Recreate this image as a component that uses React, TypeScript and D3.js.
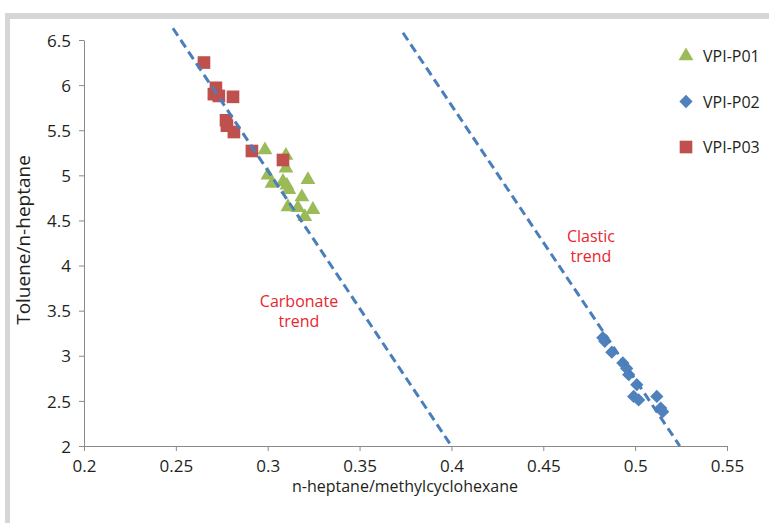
import React, { useEffect, useRef } from 'react'
import * as d3 from 'd3'

// VPI-P01 (green triangles)
const p01X = [0.2985, 0.3099, 0.3099, 0.3001, 0.3023, 0.3083, 0.3104, 0.3115, 0.3219, 0.3186, 0.311, 0.3164, 0.3246, 0.3202]
const p01Y = [5.28, 5.22, 5.08, 5.0, 4.91, 4.93, 4.89, 4.84, 4.95, 4.76, 4.65, 4.64, 4.62, 4.54]
// VPI-P02 (blue diamonds)
const p02X = [0.4824, 0.4835, 0.4873, 0.4933, 0.4954, 0.4965, 0.5009, 0.4992, 0.5019, 0.5118, 0.5139, 0.515]
const p02Y = [3.2, 3.16, 3.04, 2.92, 2.86, 2.79, 2.68, 2.55, 2.51, 2.55, 2.42, 2.38]
// VPI-P03 (red squares)
const p03X = [0.2653, 0.2718, 0.2707, 0.2734, 0.2811, 0.2773, 0.2778, 0.2816, 0.2914, 0.3083]
const p03Y = [6.25, 5.97, 5.9, 5.88, 5.87, 5.61, 5.55, 5.48, 5.27, 5.17]

const carbonateX = [0.2484, 0.4]
const carbonateY = [6.63, 2.0]
const clasticX = [0.3736, 0.5243]
const clasticY = [6.58, 2.0]

const xTicks = [0.2, 0.25, 0.3, 0.35, 0.4, 0.45, 0.5, 0.55]
const yTicks = [2, 2.5, 3, 3.5, 4, 4.5, 5, 5.5, 6, 6.5]
const seriesNames = ['VPI-P01', 'VPI-P02', 'VPI-P03']

const W = 769, H = 523
const FONT = '"Open Sans", sans-serif'

export default function App() {
  const ref = useRef<SVGSVGElement>(null)

  useEffect(() => {
    const svg = d3.select(ref.current)
    svg.selectAll('*').remove()

    const x = d3.scaleLinear().domain([0.2, 0.55]).range([84, 727])
    const y = d3.scaleLinear().domain([2, 6.5]).range([446, 40])

    // frame
    svg.append('rect').attr('x', 5).attr('y', 13).attr('width', W).attr('height', 6).attr('fill', '#d5d7d7')
    svg.append('rect').attr('x', 5).attr('y', 13).attr('width', 5).attr('height', H).attr('fill', '#d5d7d7')

    // axes
    const xAxis = svg.append('g').attr('transform', 'translate(0,446)')
      .call(d3.axisBottom(x).tickValues(xTicks).tickSize(5).tickSizeOuter(0).tickFormat(d => String(d)))
    const yAxis = svg.append('g').attr('transform', 'translate(84,0)')
      .call(d3.axisLeft(y).tickValues(yTicks).tickSize(5).tickSizeOuter(0).tickFormat(d => String(d)))
    ;[xAxis, yAxis].forEach(a => {
      a.attr('font-size', 17).attr('font-family', FONT)
      a.select('.domain').attr('stroke', '#8a8a8a')
      a.selectAll('.tick line').attr('stroke', '#8a8a8a')
      a.selectAll('.tick text').attr('fill', '#231f20')
    })
    xAxis.selectAll('.tick text').attr('y', 26).attr('dy', null)
    yAxis.selectAll('.tick text').attr('x', -13).attr('dy', '0.36em')

    // titles
    svg.append('text').attr('x', 405).attr('y', 492).attr('text-anchor', 'middle')
      .attr('font-size', 16).attr('font-family', FONT).attr('fill', '#231f20')
      .text('n-heptane/methylcyclohexane')
    svg.append('text').attr('transform', 'translate(30,240) rotate(-90)').attr('text-anchor', 'middle')
      .attr('font-size', 19).attr('font-family', FONT).attr('fill', '#231f20')
      .text('Toluene/n-heptane')

    // markers
    const sym = (t: d3.SymbolType, s: number) => d3.symbol().type(t).size(s)()
    const tri = sym(d3.symbolTriangle, 95)
    const dia = sym(d3.symbolSquare, 88)
    const sq = sym(d3.symbolSquare, 160)

    svg.append('g').selectAll('path').data(p01X).enter().append('path')
      .attr('d', tri).attr('fill', '#9bbb59')
      .attr('transform', (d, i) => `translate(${x(d)},${y(p01Y[i])})`)
    svg.append('g').selectAll('path').data(p02X).enter().append('path')
      .attr('d', dia).attr('fill', '#4f81bd')
      .attr('transform', (d, i) => `translate(${x(d)},${y(p02Y[i])}) rotate(45)`)
    svg.append('g').selectAll('path').data(p03X).enter().append('path')
      .attr('d', sq).attr('fill', '#c0504d')
      .attr('transform', (d, i) => `translate(${x(d)},${y(p03Y[i])})`)

    // trend lines
    ;[[carbonateX, carbonateY], [clasticX, clasticY]].forEach(([xs, ys]) => {
      svg.append('path')
        .attr('d', d3.line<number>().x(d => x(xs[d])).y(d => y(ys[d]))([0, 1]))
        .attr('stroke', '#4a7ebb').attr('stroke-width', 3).attr('fill', 'none')
        .attr('stroke-dasharray', '9,5')
    })

    // annotations
    const red = '#e8262f'
    const ann = (lines: string[], cx: number, cy: number) => {
      lines.forEach((t, i) => {
        svg.append('text').attr('x', cx).attr('y', cy + i * 20).attr('text-anchor', 'middle')
          .attr('font-size', 16).attr('font-family', FONT).attr('fill', red).text(t)
      })
    }
    ann(['Carbonate', 'trend'], 299, 307)
    ann(['Clastic', 'trend'], 591, 242)

    // legend
    const legSym = [tri, dia, sq]
    const legRot = [0, 45, 0]
    const legCol = ['#9bbb59', '#4f81bd', '#c0504d']
    seriesNames.forEach((n, i) => {
      const ly = 56 + i * 45.5
      svg.append('path').attr('d', legSym[i]).attr('fill', legCol[i])
        .attr('transform', `translate(686,${ly}) rotate(${legRot[i]})`)
      svg.append('text').attr('x', 703).attr('y', ly + 6).attr('font-size', 16)
        .attr('font-family', FONT).attr('fill', '#231f20').text(n)
    })
  }, [])

  return <svg ref={ref} width={W} height={H} style={{ position: 'absolute', left: 0, top: 0, background: '#fff' }} />
}
